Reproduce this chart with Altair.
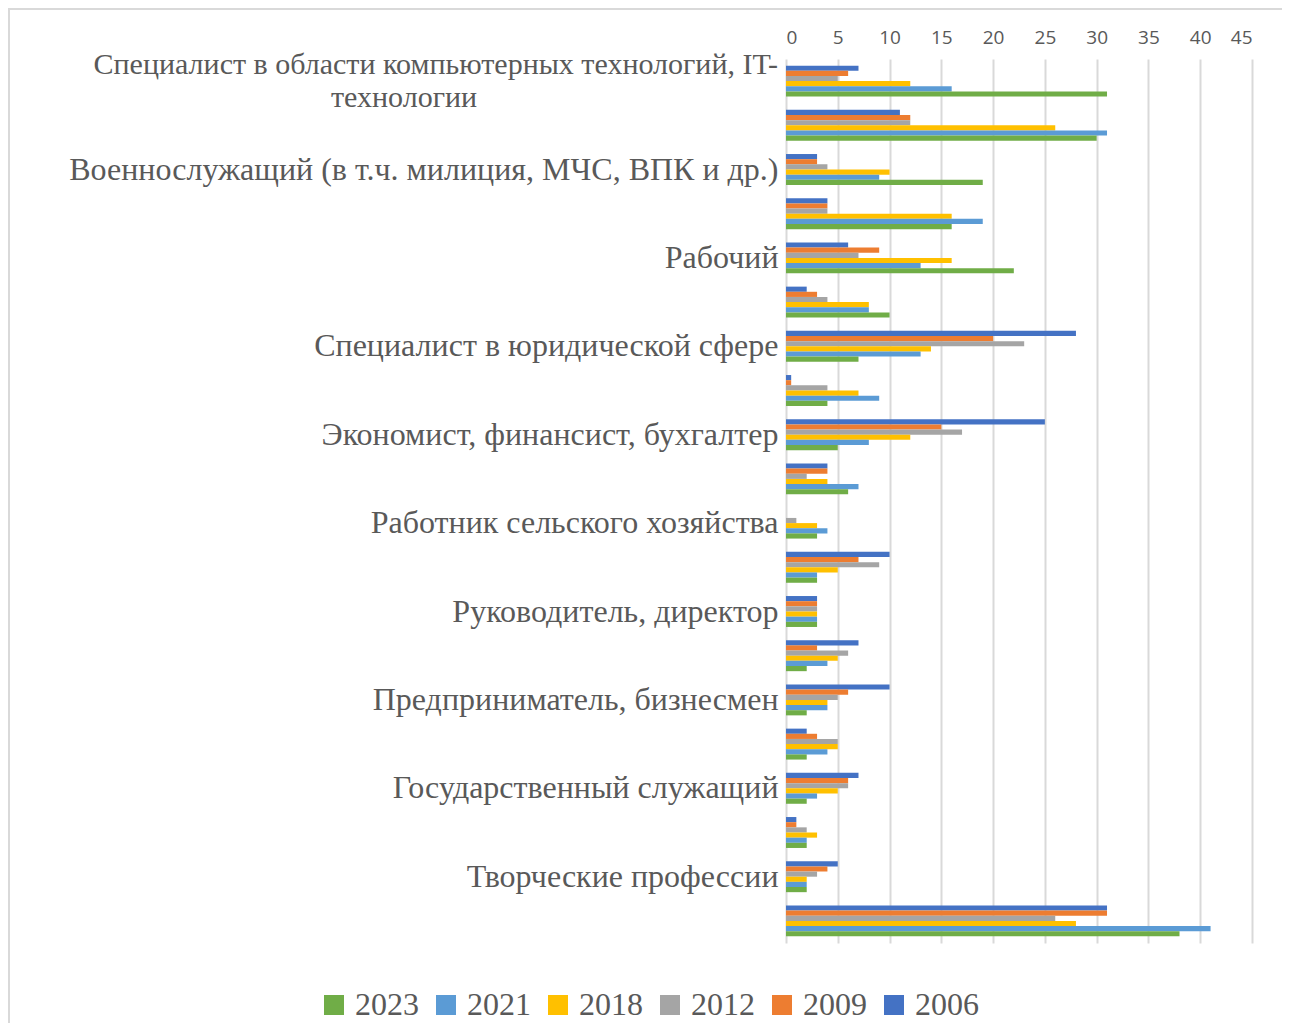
import json
import altair as alt
import pandas as pd

SERIF = "Liberation Serif, Times New Roman, serif"

# Category labels (only every other category carries a visible label in the original)
first_label_lines = ["Специалист в области компьютерных технологий, IT-", "технологии"]
labels = [
    "",  # first label is drawn as two lines by a text layer below
    "",
    "Военнослужащий (в т.ч. милиция, МЧС, ВПК и др.)",
    "",
    "Рабочий",
    "",
    "Специалист в юридической сфере",
    "",
    "Экономист, финансист, бухгалтер",
    "",
    "Работник сельского хозяйства",
    "",
    "Руководитель, директор",
    "",
    "Предприниматель, бизнесмен",
    "",
    "Государственный служащий",
    "",
    "Творческие профессии",
    "",
]

years = ["2006", "2009", "2012", "2018", "2021", "2023"]
legend_order = ["2023", "2021", "2018", "2012", "2009", "2006"]
colors = {"2023": "#70AD47", "2021": "#5B9BD5", "2018": "#FFC000",
          "2012": "#A5A5A5", "2009": "#ED7D31", "2006": "#4472C4"}

v2006 = [7, 11, 3, 4, 6, 2, 28, 0.5, 25, 4, 0, 10, 3, 7, 10, 2, 7, 1, 5, 31]
v2009 = [6, 12, 3, 4, 9, 3, 20, 0.5, 15, 4, 0, 7, 3, 3, 6, 3, 6, 1, 4, 31]
v2012 = [5, 12, 4, 4, 7, 4, 23, 4, 17, 2, 1, 9, 3, 6, 5, 5, 6, 2, 3, 26]
v2018 = [12, 26, 10, 16, 16, 8, 14, 7, 12, 4, 3, 5, 3, 5, 4, 5, 5, 3, 2, 28]
v2021 = [16, 31, 9, 19, 13, 8, 13, 9, 8, 7, 4, 3, 3, 4, 4, 4, 3, 2, 2, 41]
v2023 = [31, 30, 19, 16, 22, 10, 7, 4, 5, 6, 3, 3, 3, 2, 2, 2, 2, 2, 2, 38]

series = {"2006": v2006, "2009": v2009, "2012": v2012,
          "2018": v2018, "2021": v2021, "2023": v2023}

rows = []
for y in years:
    for i, v in enumerate(series[y]):
        rows.append({"cat": i + 1, "year": y, "value": v})
df = pd.DataFrame(rows)

label_expr = json.dumps(labels, ensure_ascii=False) + "[datum.value - 1]"

W, H = 466, 884
yscale = alt.Scale(paddingInner=0.3, paddingOuter=0.15)

bars = alt.Chart(df).mark_bar().encode(
    y=alt.Y("cat:O", scale=yscale,
            axis=alt.Axis(title=None, labelExpr=label_expr, ticks=False, domain=False,
                          labelFont=SERIF, labelFontSize=32,
                          labelColor="#595959", labelPadding=8, labelLimit=2000)),
    yOffset=alt.YOffset("year:N", sort=years,
                        scale=alt.Scale(domain=years, paddingInner=0, paddingOuter=0)),
    x=alt.X("value:Q",
            scale=alt.Scale(domain=[0, 45], nice=False),
            axis=alt.Axis(title=None, orient="top", values=list(range(0, 50, 5)),
                          ticks=False, domain=False, grid=True,
                          gridColor="#d9d9d9", gridWidth=2,
                          labelFont="Open Sans", labelFontSize=19,
                          labelColor="#595959", labelPadding=12)),
    color=alt.Color("year:N",
                    scale=alt.Scale(domain=legend_order,
                                    range=[colors[y] for y in legend_order]),
                    legend=alt.Legend(title=None, orient="none", direction="horizontal",
                                      columns=6, legendX=-468, legendY=930,
                                      symbolType="square", symbolSize=400,
                                      symbolStrokeWidth=0, symbolOpacity=1,
                                      labelFont=SERIF, labelFontSize=32,
                                      labelColor="#595959", labelOffset=5,
                                      columnPadding=11)),
)

first_df = pd.DataFrame({"cat": [1], "line1": [first_label_lines[0]],
                         "line2": [first_label_lines[1]]})
line1 = alt.Chart(first_df).mark_text(
    font=SERIF, fontSize=30, color="#595959", align="right", baseline="middle", dy=-16
).encode(y=alt.Y("cat:O", scale=yscale), x=alt.value(-8), text="line1:N")
line2 = alt.Chart(first_df).mark_text(
    font=SERIF, fontSize=30, color="#595959", align="center", baseline="middle", dy=17
).encode(y=alt.Y("cat:O", scale=yscale), x=alt.value(-382), text="line2:N")

border = alt.Chart(pd.DataFrame({"a": [0]})).mark_rect(
    fill=None, stroke="#d9d9d9", strokeWidth=2
).encode(x=alt.value(-777), x2=alt.value(W + 60), y=alt.value(-50), y2=alt.value(H + 100))

chart = alt.layer(border, bars, line1, line2).properties(
    width=W, height=H,
    autosize=alt.AutoSizeParams(type="none"),
    padding={"left": 778, "top": 51, "right": 30, "bottom": 80},
).configure(font=SERIF).configure_view(stroke=None).configure_legend(labelFont=SERIF)

chart.save("out.html", embed_options={"renderer": "svg", "actions": False})
